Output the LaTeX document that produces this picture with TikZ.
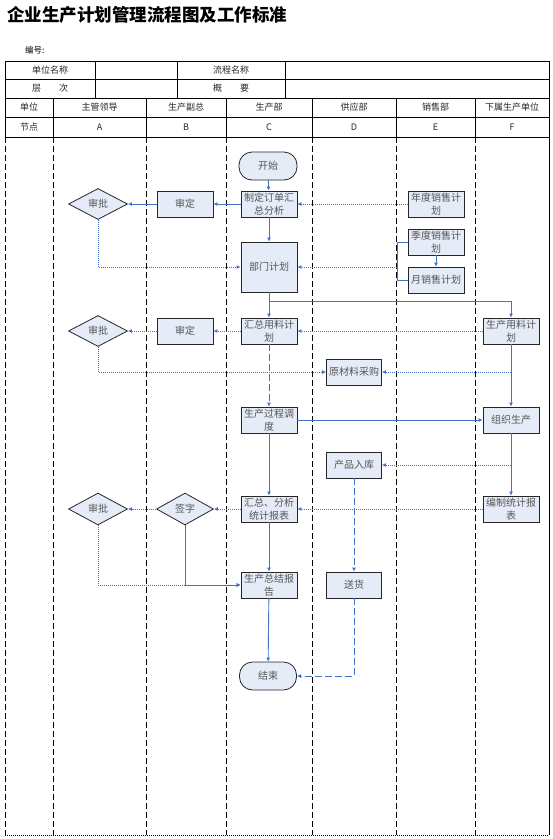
\documentclass[tikz,border=0pt]{standalone}
\usepackage{fontspec}
\setmainfont{Noto Sans CJK SC}
\usetikzlibrary{shapes.geometric,arrows.meta}
\definecolor{lblue}{HTML}{4472C4}
\definecolor{boxfill}{HTML}{E6ECF7}
\definecolor{txt}{HTML}{555555}
\begin{document}
\begin{tikzpicture}[x=1pt,y=-1pt,
  tbl/.style={draw=black,line width=0.6pt},
  hdr/.style={font=\fontsize{9}{11}\selectfont,text=black!85,inner sep=0pt},
  lane/.style={draw=black,line width=0.7pt,dash pattern=on 6pt off 3pt},
  box/.style={draw=black!85,fill=boxfill,line width=0.8pt,minimum width=56pt,minimum height=26pt,inner sep=1pt,align=center,text=txt,font=\fontsize{10}{12.5}\selectfont},
  term/.style={box,rounded corners=13pt,minimum width=58pt,minimum height=28pt},
  dia/.style={draw=black!85,fill=boxfill,line width=0.8pt,shape=diamond,aspect=2,minimum width=59pt,minimum height=31pt,inner sep=0pt,text=txt,font=\fontsize{10}{12}\selectfont},
  conn/.style={draw=lblue,line width=0.9pt,-{Latex[length=4pt,width=4pt]}},
  dotconn/.style={conn,dash pattern=on 1pt off 1pt},
  dashconn/.style={conn,dash pattern=on 7pt off 3pt},
  plain/.style={draw=lblue,line width=0.9pt},
  plaindot/.style={plain,dash pattern=on 1pt off 1pt}
]
\useasboundingbox (0,0) rectangle (553,839);
% title
\node[anchor=west,inner sep=0pt,font=\fontsize{17.5}{20}\bfseries\selectfont] (title) at (7,15) {企业生产计划管理流程图及工作标准};
\node[anchor=west,inner sep=0pt,font=\fontsize{8.5}{10}\selectfont] (bh) at (25,50) {编号:};
% table
\draw[tbl] (5,61) rectangle (549,137);
\draw[tbl] (5,79) -- (549,79);
\draw[tbl] (5,98) -- (549,98);
\draw[tbl] (5,117) -- (549,117);
\foreach \x in {95,177,285} \draw[tbl] (\x,61) -- (\x,98);
\foreach \x in {53,146,226,312,396,475} \draw[tbl] (\x,98) -- (\x,137);
\node[hdr] (h1) at (50,70) {单位名称};
\node[hdr] (h2) at (231,70) {流程名称};
\node[hdr] (h3) at (50,88.5) {层\hspace{2em}次};
\node[hdr] (h4) at (231,88.5) {概\hspace{2em}要};
\node[hdr] (c0) at (29,107.5) {单位};
\node[hdr] (c1) at (99.5,107.5) {主管领导};
\node[hdr] (c2) at (186,107.5) {生产副总};
\node[hdr] (c3) at (269,107.5) {生产部};
\node[hdr] (c4) at (354,107.5) {供应部};
\node[hdr] (c5) at (435.5,107.5) {销售部};
\node[hdr] (c6) at (512,107.5) {下属生产单位};
\node[hdr] (d0) at (29,127) {节点};
\node[hdr] (d1) at (99.5,127) {A};
\node[hdr] (d2) at (186,127) {B};
\node[hdr] (d3) at (269,127) {C};
\node[hdr] (d4) at (354,127) {D};
\node[hdr] (d5) at (435.5,127) {E};
\node[hdr] (d6) at (512,127) {F};
% lanes
\foreach \x in {5,53,146,226,312,396,475} \draw[lane] (\x,137) -- (\x,835);
\draw[tbl] (549,137) -- (549,835);
\draw[draw=black,line width=0.7pt,dash pattern=on 1pt off 1pt] (5,835) -- (549,835);
% nodes
\node[term] (start) at (268,166) {开始};
\node[box] (zd) at (269,204) {制定订单汇\\总分析};
\node[box] (sd1) at (185,204) {审定};
\node[dia] (sp1) at (98,204) {审批};
\node[box,minimum height=50pt] (bm) at (269,267) {部门计划};
\node[box] (nd) at (436,204) {年度销售计\\划};
\node[box] (jd) at (436,242) {季度销售计\\划};
\node[box] (yd) at (436,280) {月销售计划};
\node[box] (hz) at (269,331) {汇总用料计\\划};
\node[box] (sd2) at (185,331) {审定};
\node[dia] (sp2) at (98,331) {审批};
\node[box] (scyl) at (511,331) {生产用料计\\划};
\node[box,minimum width=55pt] (ycl) at (354,372) {原材料采购};
\node[box] (gc) at (269,420) {生产过程调\\度};
\node[box] (zzsc) at (511,420) {组织生产};
\node[box,minimum width=55pt] (rk) at (354,465) {产品入库};
\node[box] (bz) at (511,509) {编制统计报\\表};
\node[box] (hzfx) at (269,509) {汇总、分析\\统计报表};
\node[dia,minimum width=57pt,minimum height=32pt] (qz) at (185,509) {签字};
\node[dia,minimum height=32pt] (sp3) at (98,509) {审批};
\node[box] (zj) at (269,585) {生产总结报\\告};
\node[box,minimum width=55pt] (sh) at (354,585) {送货};
\node[term,minimum width=57pt] (end) at (268,676) {结束};
% connectors row 1
\draw[conn] (start) -- (zd);
\draw[conn] (zd) -- (sd1);
\draw[conn] (sd1) -- (sp1);
\draw[dotconn] (sp1.south) |- (bm.west);
\draw[conn] (zd) -- (bm);
\draw[dotconn] (nd) -- (zd);
\draw[conn] (jd) -- (yd);
\coordinate (jn) at (397,267);
\draw[plain] (jd.west) -- (jd.west -| jn) -- (yd.west -| jn) -- (yd.west);
\draw[dotconn] (jn) -- (bm.east);
% row 2
\coordinate (br) at (269,301);
\draw[conn] (bm) -- (hz);
\draw[conn] (br) -| (scyl.north);
\draw[dotconn] (scyl) -- (hz);
\draw[dotconn] (hz) -- (sd2);
\draw[dotconn] (sd2) -- (sp2);
\draw[dotconn] (sp2.south) |- (ycl.west);
\draw[conn] (scyl) -- (zzsc);
\coordinate (yb) at (scyl.south |- ycl);
\draw[dotconn] (yb) -- (ycl.east);
\draw[dashconn] (hz) -- (gc);
\draw[conn] (gc) -- (zzsc);
% row 3
\draw[conn] (zzsc) -- (bz);
\coordinate (rb) at (zzsc.south |- rk);
\draw[dotconn] (rb) -- (rk.east);
\draw[dotconn] (bz) -- (hzfx);
\draw[dotconn] (hzfx) -- (qz);
\draw[dotconn] (qz) -- (sp3);
\draw[conn] (gc) -- (hzfx);
\draw[conn] (hzfx) -- (zj);
\draw[conn] (qz.south) |- (zj.west);
\draw[dotconn] (sp3.south) |- (zj.west);
\draw[dashconn] (rk) -- (sh);
\draw[dashconn] (sh.south) |- (end.east);
\draw[conn] (zj) -- (end);
\end{tikzpicture}
\end{document}
